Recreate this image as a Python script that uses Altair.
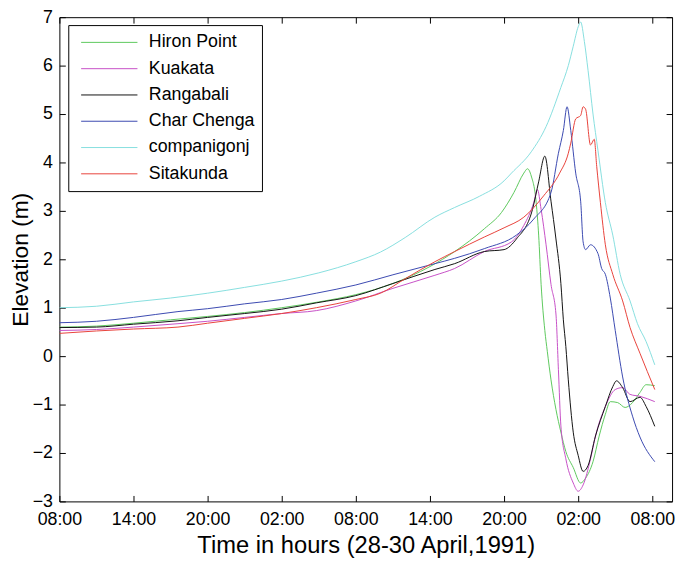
import altair as alt
import pandas as pd

# ---------------- data (hours after 08:00, 28 April 1991; elevation in m) -------------
series_names = ["Hiron Point", "Kuakata", "Rangabali", "\u00a0Char Chenga", "companigonj", "Sitakunda"]
series_colors = ["#5cc85c", "#c64fc6", "#111111", "#3a48b0", "#86dede", "#e8413a"]

hiron_h = [0, 3, 6, 9, 12, 15, 18, 21, 24, 27, 30, 32, 34.4, 35.8, 36.8, 37.6, 37.9, 38.2, 38.6, 38.8,
           39.0, 39.3, 39.5, 39.8, 40.2, 40.6, 41.0, 41.6, 42.2, 42.6, 43.2, 43.7, 44.2, 44.6, 45.2, 45.8,
           46.4, 47.0, 47.5, 48.2]
hiron_v = [0.6, 0.62, 0.68, 0.75, 0.82, 0.9, 1.0, 1.12, 1.27, 1.5, 1.85, 2.16, 2.63, 2.97, 3.38, 3.78, 3.87,
           3.72, 3.17, 2.5, 1.48, 0.53, 0.1, -0.49, -1.1, -1.57, -1.97, -2.3, -2.62, -2.52, -2.18, -1.65,
           -1.2, -0.94, -0.96, -1.06, -0.96, -0.75, -0.59, -0.61]

kuakata_h = [0, 3, 6, 9.6, 12, 15, 18, 20.8, 24, 27, 30.4, 32, 34.4, 36.6, 37.6, 38.4, 38.7, 39.0, 39.4,
             39.8, 40.2, 40.4, 40.6, 41.0, 41.6, 42.0, 42.4, 43.0, 43.4, 44.2, 45.0, 45.6, 46.2, 47.0, 48.2]
kuakata_v = [0.53, 0.55, 0.6, 0.67, 0.72, 0.8, 0.88, 0.94, 1.14, 1.4, 1.67, 1.81, 2.16, 2.36, 2.7, 3.17,
             3.44, 3.03, 2.3, 1.48, 0.87, -0.28, -1.44, -2.12, -2.62, -2.79, -2.66, -2.12, -1.65, -1.04,
             -0.69, -0.65, -0.79, -0.83, -0.94]

rangabali_h = [0, 3, 6, 9.6, 12, 15, 18, 20.8, 24, 27, 30.4, 32, 34.4, 36, 37, 38.3, 38.8, 39.3, 39.8,
               40.2, 40.6, 40.8, 41.0, 41.2, 41.6, 42.0, 42.4, 42.8, 43.4, 44.2, 44.8, 45.1, 45.6, 46.2,
               47.0, 47.5, 48.2]
rangabali_v = [0.59, 0.6, 0.66, 0.73, 0.8, 0.88, 0.97, 1.1, 1.25, 1.5, 1.79, 1.91, 2.16, 2.2, 2.42, 3.03,
               3.6, 4.13, 3.2, 2.42, 1.5, 0.75, 0.2, -0.49, -1.57, -2.05, -2.38, -2.26, -1.65, -1.04,
               -0.63, -0.51, -0.65, -0.94, -0.85, -1.04, -1.45]

charchenga_h = [0, 3, 6, 9.6, 12, 15, 18, 20.8, 24, 27, 30.4, 32, 34.4, 37, 38.4, 39.8, 40.4, 40.8, 41.1,
                41.4, 41.8, 42.2, 42.4, 42.6, 43.0, 43.6, 43.9, 44.2, 44.6, 45.0, 45.6, 46.4, 47.0, 48.2]
charchenga_v = [0.69, 0.72, 0.8, 0.92, 0.98, 1.08, 1.17, 1.3, 1.47, 1.68, 1.91, 2.02, 2.22, 2.5, 2.83,
                3.38, 4.19, 4.66, 5.15, 4.66, 3.78, 3.2, 2.36, 2.2, 2.3, 2.12, 1.81, 1.69, 1.2, 0.53,
                -0.43, -1.24, -1.67, -2.18]

companigonj_h = [0, 3, 6, 9, 12, 15, 18, 21, 24, 26, 28, 30.4, 32, 34, 36, 36.6, 38.2, 39.4, 40.6, 41.2,
                 41.6, 42.0, 42.2, 42.5, 42.8, 43.2, 43.6, 44.2, 44.8, 45.4, 46.2, 46.8, 47.5, 48.2]
companigonj_v = [1.0, 1.03, 1.12, 1.2, 1.3, 1.42, 1.55, 1.72, 1.95, 2.15, 2.45, 2.87, 3.07, 3.3, 3.62,
                 3.78, 4.22, 4.74, 5.55, 6.0, 6.4, 6.8, 6.9, 6.5, 5.9, 5.0, 4.25, 3.17, 2.5, 1.69, 1.14,
                 0.67, 0.3, -0.18]

sitakunda_h = [0, 3, 6, 9.6, 12, 15, 18, 20.8, 24, 26, 28, 30.4, 32, 34.4, 36, 37.6, 39.2, 40.5, 41.2,
               41.4, 41.8, 42.2, 42.4, 42.6, 43.0, 43.3, 43.5, 43.8, 44.2, 44.8, 45.6, 46.2, 47.0, 48.2]
sitakunda_v = [0.47, 0.52, 0.56, 0.6, 0.68, 0.78, 0.88, 1.0, 1.17, 1.3, 1.6, 1.95, 2.16, 2.46, 2.65, 2.87,
               3.31, 3.78, 4.19, 4.4, 4.9, 4.97, 5.15, 5.1, 4.36, 4.48, 3.92, 3.17, 2.3, 1.69, 1.14, 0.59,
               0.06, -0.69]

tick_hours = [0, 6, 12, 18, 24, 30, 36, 42, 48]
tick_labels = ["08:00", "14:00", "20:00", "02:00", "08:00", "14:00", "20:00", "02:00", "08:00"]
y_ticks = [-3, -2, -1, 0, 1, 2, 3, 4, 5, 6, 7]

# ---------------- build long table -------------
all_series = [
    (series_names[0], hiron_h, hiron_v),
    (series_names[1], kuakata_h, kuakata_v),
    (series_names[2], rangabali_h, rangabali_v),
    (series_names[3], charchenga_h, charchenga_v),
    (series_names[4], companigonj_h, companigonj_v),
    (series_names[5], sitakunda_h, sitakunda_v),
]
rows = []
for name, hs, vs in all_series:
    for h, v in zip(hs, vs):
        rows.append({"site": name, "hour": h, "elev": v})
df = pd.DataFrame(rows)

label_expr = "[" + ",".join("'" + t + "'" for t in tick_labels) + "][round(datum.value/6)]"
FONT = "Liberation Sans"

x_scale = alt.Scale(domain=[0, 49.6], nice=False, zero=False)
y_scale = alt.Scale(domain=[-3, 7], nice=False, zero=False)

lines = alt.Chart(df).mark_line(strokeWidth=1, clip=True, interpolate="monotone").encode(
    x=alt.X("hour:Q", scale=x_scale,
            axis=alt.Axis(orient="bottom", values=tick_hours, labelExpr=label_expr, offset=-6,
                          tickSize=6, domain=False, grid=False, labelPadding=9, labelFlush=False,
                          labelOverlap=False, labelFontSize=18,
                          title="Time in hours (28-30 April,1991)", titleFontSize=24, titlePadding=6)),
    y=alt.Y("elev:Q", scale=y_scale,
            axis=alt.Axis(orient="left", values=y_ticks, format="d", offset=-6, tickSize=6,
                          domain=False, grid=False, labelPadding=7, labelFlush=False,
                          labelOverlap=False, labelFontSize=18,
                          title="Elevation (m)", titleFontSize=23, titlePadding=0)),
    color=alt.Color("site:N",
                    scale=alt.Scale(domain=series_names, range=series_colors),
                    sort=series_names,
                    legend=alt.Legend(orient="none", legendX=9, legendY=8, title=None,
                                      symbolType="stroke", symbolSize=3249, symbolStrokeWidth=1,
                                      clipHeight=21, rowPadding=5.6, padding=7,
                                      strokeColor="black", fillColor="white",
                                      labelFontSize=18, labelOffset=11, symbolOffset=5.5,
                                      labelFont=FONT, labelColor="black", labelLimit=0)),
)

mirror = alt.Chart(df).mark_line(strokeOpacity=0).encode(
    x=alt.X("hour:Q", scale=x_scale,
            axis=alt.Axis(orient="top", values=tick_hours, labels=False, title=None, offset=-6,
                          tickSize=6, domain=False, grid=False)),
    y=alt.Y("elev:Q", scale=y_scale,
            axis=alt.Axis(orient="right", values=y_ticks, labels=False, title=None, offset=-6,
                          tickSize=6, domain=False, grid=False)),
    detail="site:N",
)

chart = alt.layer(lines, mirror).resolve_axis(
    x="independent", y="independent"
).properties(
    width=620, height=490,
    autosize=alt.AutoSizeParams(type="none"),
    padding={"left": 52, "top": 6, "right": 5, "bottom": 56},
).configure_view(
    stroke="black", strokeWidth=1
).configure_axis(
    labelFont=FONT, titleFont=FONT, labelColor="black", titleColor="black",
    tickColor="black", titleFontWeight="normal", tickWidth=1
)

chart.save("out.html", embed_options={"renderer": "svg", "actions": False})
